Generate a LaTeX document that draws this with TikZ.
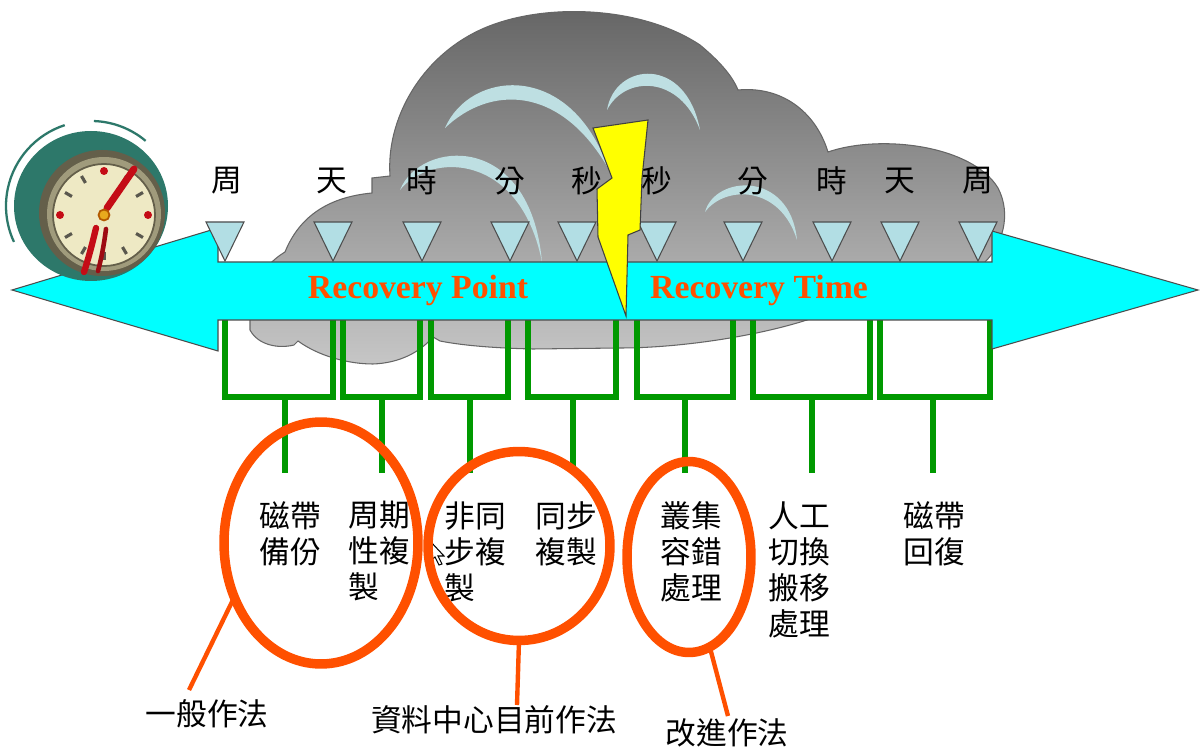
\documentclass[tikz,border=0pt]{standalone}
\usepackage{fontspec}
\newfontfamily\cjk{Noto Sans CJK TC}
\newfontfamily\tnr{Liberation Serif}
\usetikzlibrary{shapes.geometric,calc}
\definecolor{arrowcyan}{RGB}{0,255,255}
\definecolor{marker}{RGB}{178,222,228}
\definecolor{ringorange}{RGB}{255,80,0}
\definecolor{bracketgreen}{RGB}{0,153,0}
\definecolor{cloudtop}{RGB}{100,100,100}
\definecolor{cloudbottom}{RGB}{198,198,198}
\definecolor{swoosh}{RGB}{190,223,226}
\definecolor{bolt}{RGB}{255,255,0}
\definecolor{clockteal}{RGB}{45,120,106}
\definecolor{clockrim}{RGB}{100,95,74}
\definecolor{clockrimlight}{RGB}{160,155,124}
\definecolor{clockface}{RGB}{238,233,196}
\definecolor{handred}{RGB}{196,12,22}
\definecolor{tickgray}{RGB}{90,88,78}
\definecolor{hubgold}{RGB}{232,170,30}
\begin{document}
\begin{tikzpicture}[x=0.02cm,y=-0.02cm,
  outline/.style={draw=black!70,line width=0.6pt},
  marktri/.style={fill=marker,draw=black!70,line width=0.6pt},
  unitlabel/.style={font=\cjk\fontsize{17.5}{21}\selectfont,inner sep=0pt},
  methodtext/.style={font=\cjk\fontsize{17.5}{20.5}\selectfont,align=left,anchor=north west,inner sep=0pt},
  grouplabel/.style={font=\cjk\fontsize{17.5}{21}\selectfont,inner sep=0pt},
  ring/.style={ellipse,draw=ringorange,line width=5.4pt,inner sep=0pt,outer sep=0pt},
  pointer/.style={draw=ringorange,line width=2.5pt},
  bracket/.style={draw=bracketgreen,line width=2.9pt},
  phase/.style={font=\tnr\bfseries\fontsize{19.2}{22}\selectfont,text=ringorange,inner sep=0pt}]

\useasboundingbox (0,0) rectangle (1203,749);
\fill[white] (0,0) rectangle (1203,749);

% storm cloud
\draw[top color=cloudtop,bottom color=cloudbottom,draw=black!60,line width=0.6pt]
  (250,300)
  .. controls (255,280) and (268,262) .. (285,252)
  .. controls (300,215) and (330,197) .. (372,193)
  -- (372,178) -- (390,176)
  .. controls (386,120) and (420,58) .. (480,30)
  .. controls (540,2) and (640,5) .. (700,45)
  .. controls (718,60) and (732,75) .. (738,90)
  .. controls (780,86) and (815,110) .. (828,152)
  .. controls (880,134) and (972,145) .. (998,188)
  .. controls (1012,215) and (1002,245) .. (985,262)
  -- (985,300) -- (813,318)
  .. controls (760,336) and (680,348) .. (620,348)
  -- (533,349)
  .. controls (490,348) and (460,345) .. (440,341)
  -- (433,337)
  .. controls (420,352) and (400,363) .. (373,364)
  .. controls (350,364) and (320,357) .. (298,341)
  -- (294,345)
  .. controls (278,349) and (258,345) .. (250,330) -- cycle;

% wind swooshes inside the cloud
\fill[swoosh] (445,128) .. controls (470,70) and (570,60) .. (608,168)
  .. controls (560,85) and (490,85) .. (445,128) -- cycle;
\fill[swoosh] (607,110) .. controls (615,62) and (686,55) .. (700,130)
  .. controls (680,75) and (625,75) .. (607,110) -- cycle;
\fill[swoosh] (400,190) .. controls (420,140) and (530,130) .. (542,262)
  .. controls (520,152) and (430,152) .. (400,190) -- cycle;
\fill[swoosh] (705,212) .. controls (715,175) and (790,170) .. (797,240)
  .. controls (780,185) and (725,185) .. (705,212) -- cycle;

% brackets under the timeline
\foreach \l/\r/\s [count=\i] in {225/333/285,343/420/382,431/508/470,528/616/573,637/733/685,753/870/812,880/990/933}{
  \draw[bracket] (\l,320) -- (\l,397) -- (\r,397) -- (\r,320);
  \draw[bracket] (\s,397) -- (\s,473);
}

% double-headed timeline arrow
\draw[fill=arrowcyan,outline] (12,290) -- (218,228) -- (218,262) -- (992,262) -- (992,231)
  -- (1198,290) -- (992,349) -- (992,320) -- (218,320) -- (218,351) -- cycle;

% tick markers
\foreach \x in {225,333,422,510,577,657,743,832,900,978}
  \draw[marktri] (\x-19,222) -- (\x+19,222) -- (\x,261) -- cycle;

% time unit labels
\foreach \x/\c [count=\i] in {227/周,332/天,422/時,510/分,587/秒,657/秒,753/分,832/時,900/天,978/周}
  \node[unitlabel] (t\i) at (\x,181) {\c};

\node[phase] (rpo) at (418,290) {Recovery Point};
\node[phase] (rto) at (759,290) {Recovery Time};

% lightning bolt
\draw[fill=bolt,draw=black!75,line width=0.6pt]
  (593,128) -- (648,120) -- (642,178) -- (640,230) -- (628,235) -- (626,316)
  -- (598,237) -- (597,189) -- (612,178) -- cycle;

% clock
\fill[clockteal] (91,206) ellipse [x radius=77, y radius=75];
\draw[clockteal,line width=1.3pt] (91,206) ++(-108:85) arc[start angle=-108,end angle=-205,radius=85];
\draw[clockteal,line width=1.3pt] (91,206) ++(-50:85) arc[start angle=-50,end angle=-88,radius=85];
\fill[clockrim] (102,213) circle[radius=63];
\fill[clockrimlight] (104,214) circle[radius=57];
\draw[fill=clockface,draw=clockrim,line width=1pt] (104,215) circle[radius=51];
\foreach \a in {30,60,120,150,210,240,300,330,90}
  \draw[tickgray,line width=1.8pt] ($(104,215)+(\a:37)$) -- ($(104,215)+(\a:45)$);
\foreach \a in {0,180,-90}
  \fill[handred] ($(104,215)+(\a:44)$) circle[radius=4];
\draw[handred,line width=4pt,line cap=round] (107,208) -- (134,169);
\draw[handred,line width=3.6pt,line cap=round] (96,228) .. controls (92,245) and (88,260) .. (84,272);
\draw[handred!80!black,line width=2.6pt,line cap=round] (106,229) .. controls (104,245) and (101,260) .. (98,271);
\draw[fill=hubgold,draw=orange!70!black,line width=1pt] (104,215) circle[radius=5.5];

% method descriptions
\node[methodtext] (m1) at (259,501) {磁帶\\備份};
\node[methodtext] (m2) at (348,501) {周期\\性複\\製};
\node[methodtext] (m3) at (444,501) {非同\\步複\\製};
\node[methodtext] (m4) at (535,501) {同步\\複製};
\node[methodtext] (m5) at (660,501) {叢集\\容錯\\處理};
\node[methodtext] (m6) at (768,501) {人工\\切換\\搬移\\處理};
\node[methodtext] (m7) at (903,501) {磁帶\\回復};

% mouse pointer
\draw[fill=white,draw=black,line width=0.6pt] (430,541) -- (430,561) -- (435,557) -- (439,565)
  -- (442,564) -- (438,556) -- (444,556) -- cycle;

% grouping rings
\node[ring,minimum width=3.88cm,minimum height=4.84cm] (e1) at (321,543) {};
\node[ring,minimum width=3.64cm,minimum height=3.78cm] (e2) at (519,546) {};
\node[ring,minimum width=2.48cm,minimum height=3.82cm] (e3) at (689,557) {};

\node[grouplabel] (g1) at (207,714) {一般作法};
\node[grouplabel] (g2) at (494,720) {資料中心目前作法};
\node[grouplabel] (g3) at (727,733) {改進作法};

\coordinate (p1) at (189,690);
\coordinate (p2) at (517,705);
\coordinate (p3) at (728,716);
\draw[pointer] (e1.212) -- (p1);
\draw[pointer] (e2.south) -- (p2);
\draw[pointer] (e3.283) -- (p3);
\end{tikzpicture}
\end{document}
